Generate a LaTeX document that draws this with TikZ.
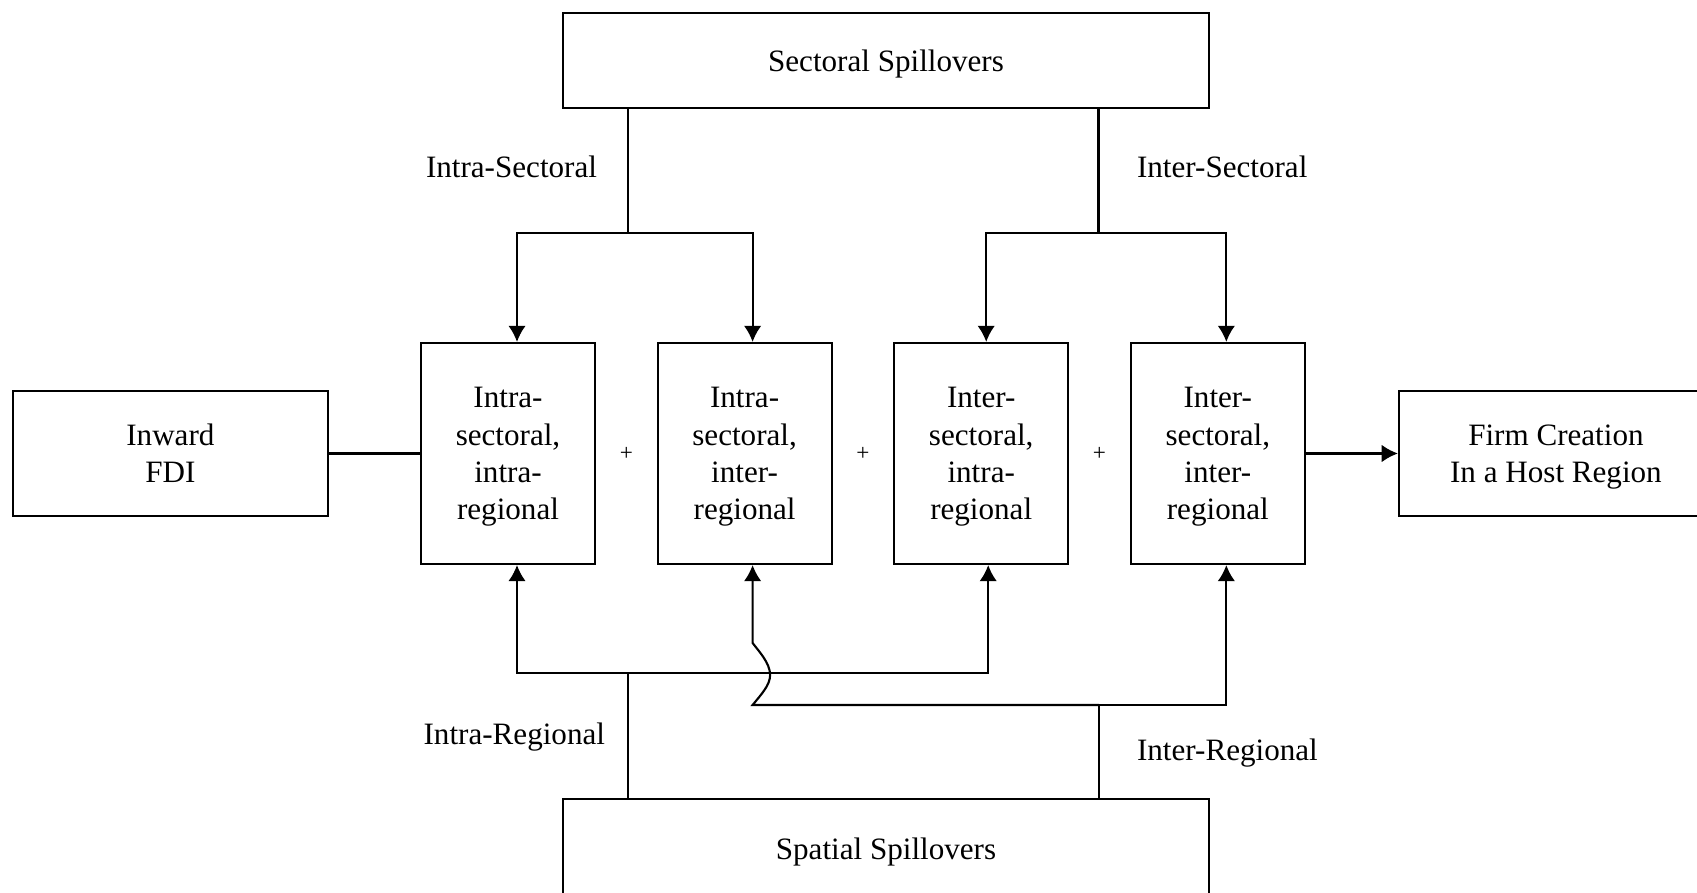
\documentclass[tikz,border=0pt]{standalone}
\usepackage{fontspec}
\setmainfont{Liberation Serif}
\usepackage{color}
\definecolor{myblack}{RGB}{0,0,0}
\usepackage{tikz}
\usetikzlibrary{calc,arrows.meta,positioning}
\tikzstyle{block}=[draw=myblack,rectangle,inner sep=0pt,align=center,text depth=0pt]

\begin{document}
\begin{tikzpicture}[
  line width=0.6pt,
  font=\fontsize{8.85}{10.6}\selectfont,
  spill/.style={block,minimum width=64.6mm,minimum height=9.5mm},
  side/.style={block,minimum width=31.5mm,minimum height=12.5mm},
  cell/.style={block,minimum width=17.4mm,minimum height=22.1mm},
  plus/.style={inner sep=0pt,font=\fontsize{6.6}{8}\selectfont},
  lab/.style={inner sep=0pt},
  arr/.style={-{Latex[length=4.6pt,width=5pt]}}
]
\useasboundingbox (0,0) rectangle (16.97,-8.93);

\node[cell] (c1) at (5.08,-4.535) {Intra-\\sectoral,\\intra-\\regional};
\node[cell] [right=6.05mm of c1] (c2) {Intra-\\sectoral,\\inter-\\regional};
\node[cell] [right=6.05mm of c2] (c3) {Inter-\\sectoral,\\intra-\\regional};
\node[cell] [right=6.05mm of c3] (c4) {Inter-\\sectoral,\\inter-\\regional};
\node[side] [left=9.1mm of c1] (fdi) {Inward\\FDI};
\node[side, minimum width=31.4mm] [right=9.2mm of c4] (firm) {Firm Creation\\In a Host Region};
\node[spill] (sect) at (8.86,-0.605) {Sectoral Spillovers};
\node[spill, minimum height=9.9mm] (spat) at (8.86,-8.485) {Spatial Spillovers};

% plus signs between the cells
\foreach \a/\b [count=\i] in {c1/c2, c2/c3, c3/c4}
  \node[plus] (p\i) at ($(\a.east)!0.5!(\b.west)$) {+};

\draw (fdi) -- (c1);
\draw[arr] (c4) -- (firm);

% sectoral branches
\coordinate (sa) at (6.28,-2.333);
\coordinate (sb) at (10.985,-2.333);
\draw (sect.south -| sa) -- (sa);
\draw[arr] (sa) -| ([xshift=0.9mm]c1.north);
\draw[arr] (sa) -| ([xshift=0.8mm]c2.north);
\draw (sect.south -| sb) -- (sb);
\draw[arr] (sb) -| ([xshift=0.5mm]c3.north);
\draw[arr] (sb) -| ([xshift=0.85mm]c4.north);

% spatial branches
\coordinate (ra) at (6.28,-6.733);
\coordinate (rb) at (10.99,-7.05);
\draw (spat.north -| ra) -- (ra);
\draw[arr] (ra) -| ([xshift=0.9mm]c1.south);
\draw[arr] (ra) -| ([xshift=0.7mm]c3.south);
\draw (spat.north -| rb) -- (rb);
\draw[arr] (rb) -| ([xshift=0.85mm]c4.south);
\coordinate (hop) at ([xshift=0.8mm]c2.south |- rb);
\draw[arr] (rb) -- (hop)
  .. controls +(0.09,0.11) and +(0,-0.1) .. ++(0.175,0.3)
  .. controls +(0,0.12) and +(0.06,-0.08) .. ++(-0.175,0.32)
  -- ([xshift=0.8mm]c2.south);

\node[lab, anchor=base] (lis) at (5.115,-1.78) {Intra-Sectoral};
\node[lab, anchor=base west] (les) at (11.36,-1.78) {Inter-Sectoral};
\node[lab, anchor=base] (lir) at (5.143,-7.45) {Intra-Regional};
\node[lab, anchor=base west] (ler) at (11.36,-7.61) {Inter-Regional};

\end{tikzpicture}
\end{document}
